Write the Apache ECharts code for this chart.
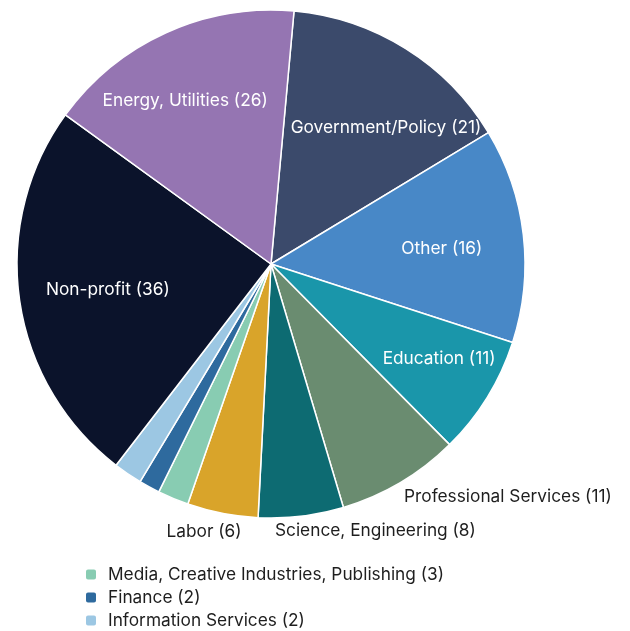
<!DOCTYPE html>
<html>
<head>
<meta charset="utf-8">
<script src="https://cdn.jsdelivr.net/npm/echarts@6/dist/echarts.min.js"></script>
<style>
  html, body { margin: 0; padding: 0; background: #fff; }
  #chart { width: 630px; height: 631px; }
</style>
</head>
<body>
<div id="chart"></div>
<script>
// Categories in clockwise order, starting just right of 12 o'clock
const categories = [
  'Government/Policy', 'Other', 'Education', 'Professional Services',
  'Science, Engineering', 'Labor', 'Media, Creative Industries, Publishing',
  'Finance', 'Information Services', 'Non-profit', 'Energy, Utilities'
];
// Counts as printed in the labels
const counts = [21, 16, 11, 11, 8, 6, 3, 2, 2, 36, 26];
// Slice sizes as drawn in the picture (measured from the slice angles)
const sliceSizes = [21.2, 19.4, 10.8, 11.1, 7.7, 6.4, 2.8, 1.9, 2.6, 34.9, 23.4];
const colors = [
  '#3b4a6b', '#4888c7', '#1a96aa', '#6a8c70', '#0d6b72', '#d9a42a',
  '#88ccb2', '#2e6a9e', '#9cc7e3', '#0b132b', '#9575b2'
];
// Label placement per category: 'inside', 'outside' or 'legend'
const labelMode = ['inside', 'inside', 'inside', 'outside', 'outside', 'outside',
  'legend', 'legend', 'legend', 'inside', 'inside'];
// Fine label nudges [dx, dy] (style only)
const labelNudge = {
  'Government/Policy': [19, 17],
  'Other': [-9, 6],
  'Education': [14, 0],
  'Non-profit': [16, 0],
  'Energy, Utilities': [-11, 2],
  'Professional Services': [-4, 1],
  'Science, Engineering': [-28, 0],
  'Labor': [22, 4]
};

const FONT = 'Inter, "Noto Sans", sans-serif';
const FS = 17.3;
const CENTER = [271, 264];
const R = 254;

const mainData = categories.map((c, i) => ({
  name: c + ' (' + counts[i] + ')',
  value: sliceSizes[i],
  itemStyle: { color: colors[i] }
}));

const labelData = categories.map((c, i) => {
  const mode = labelMode[i];
  return {
    name: c + ' (' + counts[i] + ')',
    value: sliceSizes[i],
    label: mode === 'inside'
      ? { show: true, position: 'inside', color: '#ffffff' }
      : mode === 'outside'
        ? { show: true, position: 'outside', color: '#1e1e1e' }
        : { show: false }
  };
});

const legendNames = categories
  .map((c, i) => ({ c, i }))
  .filter(o => labelMode[o.i] === 'legend')
  .map(o => ({ name: o.c + ' (' + counts[o.i] + ')', itemStyle: { color: colors[o.i] } }));

const chart = echarts.init(document.getElementById('chart'), null, { renderer: 'canvas' });
chart.setOption({
  backgroundColor: '#ffffff',
  animation: false,
  textStyle: { fontFamily: FONT },
  legend: {
    data: legendNames,
    orient: 'vertical',
    left: 84,
    top: 566,
    padding: 0,
    itemWidth: 12,
    itemHeight: 12,
    itemGap: 6,
    icon: 'roundRect',
    selectedMode: false,
    textStyle: { fontFamily: FONT, fontSize: FS, color: '#1e1e1e', padding: [0, 0, 0, 6] }
  },
  series: [
    {
      type: 'pie',
      center: CENTER,
      radius: [0, R],
      startAngle: 84.8,
      clockwise: true,
      avoidLabelOverlap: false,
      silent: true,
      label: { show: false },
      labelLine: { show: false },
      itemStyle: { borderColor: '#ffffff', borderWidth: 1.5 },
      emphasis: { disabled: true },
      data: mainData
    },
    {
      type: 'pie',
      center: CENTER,
      radius: [102, R],
      startAngle: 84.8,
      clockwise: true,
      silent: true,
      z: 3,
      itemStyle: { color: 'rgba(0,0,0,0)', borderWidth: 0 },
      emphasis: { disabled: true },
      label: { fontFamily: FONT, fontSize: FS, distanceToLabelLine: 0 },
      labelLine: { show: false, length: 15, length2: 0 },
      labelLayout: function (p) {
        const cat = categories[p.dataIndex];
        const n = labelNudge[cat] || [0, 0];
        return { dx: n[0], dy: n[1] };
      },
      data: labelData
    }
  ]
});
</script>
</body>
</html>
